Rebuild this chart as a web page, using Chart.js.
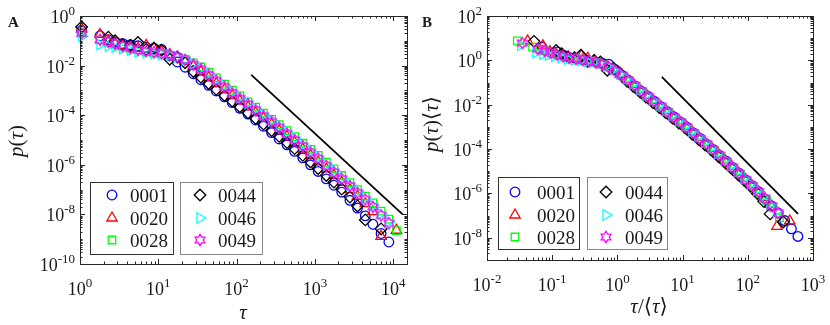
<!DOCTYPE html>
<html>
<head>
<meta charset="utf-8">
<title>Waiting time distributions</title>
<script src="https://cdn.jsdelivr.net/npm/chart.js"></script>
<style>
  body { margin: 0; background: #fff; }
  #wrap { position: relative; width: 830px; height: 325px; }
  canvas { position: absolute; top: 0; }
  #chartA { left: 0; }
  #chartB { left: 415px; }
</style>
</head>
<body>
<div id="wrap">
  <canvas id="chartA" width="415" height="325"></canvas>
  <canvas id="chartB" width="415" height="325"></canvas>
</div>
<script>
// ---- data ----
const seriesNames = ['0001', '0020', '0028', '0044', '0046', '0049'];

// log-binned waiting times (panel A, x)
const tauBins = [1.05, 1.8, 2.3, 2.8, 3.5, 4.4, 5.5, 7, 8.8, 11,
  14, 17.5, 22, 28, 35, 44, 55, 70, 88, 110,
  140, 175, 220, 280, 350, 440, 550, 700, 880, 1100,
  1400, 1750, 2200, 2800, 3500, 4400, 5500, 7000, 8800, 11000];

// p(tau) for each series, same order as tauBins (null = no point)
const p0001 = [0.26, 0.16, 0.11, 0.088, 0.078, 0.07, 0.063, 0.055, 0.05, 0.045,
  0.025, 0.014, 0.0086, 0.0047, 0.0027, 0.0016, 9.5e-4, 5.5e-4, 3.2e-4, 1.9e-4,
  1.1e-4, 6.4e-5, 3.6e-5, 2.0e-5, 1.1e-5, 6.4e-6, 3.5e-6, 1.9e-6, 1.0e-6, 5.4e-7,
  2.7e-7, 1.5e-7, 7.9e-8, 3.7e-8, 1.8e-8, 8.7e-9, 4.0e-9, 1.7e-9, 7.7e-10, null];
const p0020 = [0.3, 0.18, 0.1, 0.08, 0.065, 0.056, 0.05, 0.065, 0.05, 0.038,
  0.028, 0.0215, 0.015, 0.0094, 0.0057, 0.0033, 0.0019, 0.00106, 6.2e-4, 3.8e-4,
  2.15e-4, 1.26e-4, 7.5e-5, 4.3e-5, 2.4e-5, 1.38e-5, 7.9e-6, 4.3e-6, 2.4e-6, 1.3e-6,
  6.8e-7, 3.7e-7, 1.95e-7, 1.0e-7, 5.4e-8, 2.7e-8, 1.3e-8, 1.3e-9, null, 2.3e-9];
const p0028 = [0.21, 0.11, 0.088, 0.074, 0.06, 0.05, 0.043, 0.036, 0.032, 0.029,
  0.025, 0.022, 0.018, 0.013, 0.0088, 0.0054, 0.0032, 0.00178, 0.00102, 6.0e-4,
  3.45e-4, 2.1e-4, 1.2e-4, 6.8e-5, 4.2e-5, 2.4e-5, 1.36e-5, 7.4e-6, 4.2e-6, 2.4e-6,
  1.26e-6, 6.9e-7, 3.7e-7, 1.9e-7, 1.0e-7, 5.5e-8, 2.9e-8, 1.35e-8, 6.5e-9, 2.2e-9];
const p0044 = [0.36, null, 0.14, 0.1, 0.07, 0.065, 0.085, 0.045, 0.05, 0.042,
  0.018, 0.022, 0.013, 0.0058, 0.0034, 0.0019, 0.0011, 6.3e-4, 3.7e-4, 2.2e-4,
  1.25e-4, 7.5e-5, 4.4e-5, 2.4e-5, 1.4e-5, 7.9e-6, 4.5e-6, 2.4e-6, 1.3e-6, 7.1e-7,
  3.7e-7, 2.0e-7, 1.05e-7, 5.0e-8, 2.2e-8, 6.0e-9, null, 2.6e-9, null, null];
const p0046 = [0.15, 0.07, 0.06, 0.055, 0.048, 0.042, 0.036, 0.033, 0.031, 0.028,
  0.0267, 0.0226, 0.0172, 0.0119, 0.0077, 0.0046, 0.0027, 0.0015, 8.6e-4, 5.1e-4,
  3.0e-4, 1.78e-4, 1.03e-4, 5.9e-5, 3.5e-5, 2.0e-5, 1.14e-5, 6.2e-6, 3.5e-6, 2.0e-6,
  1.03e-6, 5.6e-7, 3.0e-7, 1.54e-7, 8.3e-8, 4.4e-8, 2.3e-8, 1.04e-8, 5.0e-9, null];
const p0049 = [0.20, 0.11, 0.090, 0.075, 0.061, 0.051, 0.044, 0.039, 0.035, 0.031,
  0.027, 0.022, 0.017, 0.011, 0.0071, 0.0043, 0.0025, 0.0014, 7.9e-4, 4.7e-4,
  2.8e-4, 1.6e-4, 9.3e-5, 5.5e-5, 3.2e-5, 1.8e-5, 1.0e-5, 5.7e-6, 3.2e-6, 1.8e-6,
  9.2e-7, 5.0e-7, 2.7e-7, 1.4e-7, 7.4e-8, 4.0e-8, 2.0e-8, 9.1e-9, 4.4e-9, null];

// mean waiting time <tau> of each series (panel B rescaling)
const meanTau = [15, 25, 36, 20, 32, 30];

// guide lines
const refTauA = [154, 13200];
const refPA = [4.2e-3, 1.0e-8];
const refXB = [4.8, 590];
const refYB = [0.18, 1.2e-7];

// tick label exponents
const aXTickExp = [0, 1, 2, 3, 4];
const aYTickExp = [0, -2, -4, -6, -8, -10];
const bXTickExp = [-2, -1, 0, 1, 2, 3];
const bYTickExp = [2, 0, -2, -4, -6, -8];

// ---- styling ----
const FONT = '"Liberation Serif", "DejaVu Serif", serif';
const INK = '#1a1a1a';
const colors = ['#0000ff', '#ff0000', '#00ff00', '#000000', '#00ffff', '#ff00ff'];
const LW = 1.3;

function hexagram(color, R, lw) {
  const s = Math.ceil(2 * R + 2 * lw + 2);
  const c = document.createElement('canvas');
  c.width = c.height = s;
  const g = c.getContext('2d');
  g.strokeStyle = color;
  g.lineWidth = lw;
  g.beginPath();
  for (let i = 0; i < 12; i++) {
    const r = i % 2 ? R / Math.sqrt(3) : R;
    const ang = Math.PI / 6 * i - Math.PI / 2;
    const px = s / 2 + r * Math.cos(ang), py = s / 2 + r * Math.sin(ang);
    if (i) g.lineTo(px, py); else g.moveTo(px, py);
  }
  g.closePath();
  g.stroke();
  return c;
}

const markers = [
  { style: 'circle', r: 4.8, rot: 0 },
  { style: 'triangle', r: 6, rot: 0 },
  { style: 'rect', r: 5.3, rot: 0 },
  { style: 'rectRot', r: 5.8, rot: 0 },
  { style: 'triangle', r: 6, rot: 90 },
  { style: hexagram(colors[5], 5.6, LW), r: 5.6, rot: 0 }
];

const pSeries = [p0001, p0020, p0028, p0044, p0046, p0049];

function pointsA(s) {
  return tauBins.map((t, i) => ({ x: t, y: pSeries[s][i] })).filter(d => d.y !== null);
}
function pointsB(s) {
  const m = meanTau[s];
  return tauBins.map((t, i) => ({ x: t / m, y: pSeries[s][i] === null ? null : pSeries[s][i] * m }))
    .filter(d => d.y !== null);
}

function buildDatasets(getPts, lineX, lineY) {
  const ds = seriesNames.map((name, s) => ({
    label: name,
    data: getPts(s),
    showLine: false,
    pointStyle: markers[s].style,
    pointRadius: markers[s].r,
    pointRotation: markers[s].rot,
    pointBorderColor: colors[s],
    pointBackgroundColor: 'rgba(0,0,0,0)',
    pointBorderWidth: LW,
    clip: false,
    order: seriesNames.length - s
  }));
  ds.push({
    label: 'guide',
    data: lineX.map((x, i) => ({ x: x, y: lineY[i] })),
    showLine: true,
    borderColor: '#000',
    borderWidth: 1.8,
    pointRadius: 0,
    clip: false,
    order: 20
  });
  return ds;
}

function drawPow(ctx, e, x, y, align) {
  const base = '10', ex = String(e);
  ctx.font = '18px ' + FONT;
  const wb = ctx.measureText(base).width;
  ctx.font = '13px ' + FONT;
  const we = ctx.measureText(ex).width;
  const x0 = align === 'center' ? x - (wb + we) / 2 : x - wb - we;
  ctx.textAlign = 'left';
  ctx.textBaseline = 'alphabetic';
  ctx.font = '18px ' + FONT;
  ctx.fillText(base, x0, y);
  ctx.font = '13px ' + FONT;
  ctx.fillText(ex, x0 + wb, y - 8);
}

function drawMixed(ctx, parts, cx, cy, rotate) {
  ctx.save();
  ctx.translate(cx, cy);
  if (rotate) ctx.rotate(-Math.PI / 2);
  const fontOf = it => (it ? 'italic ' : '') + '21px ' + FONT;
  let total = 0;
  const ws = parts.map(([t, it]) => { ctx.font = fontOf(it); const w = ctx.measureText(t).width; total += w; return w; });
  let x = -total / 2;
  ctx.textAlign = 'left';
  ctx.textBaseline = 'alphabetic';
  parts.forEach(([t, it], i) => { ctx.font = fontOf(it); ctx.fillText(t, x, 0); x += ws[i]; });
  ctx.restore();
}

function panelPlugin(cfg) {
  return {
    id: 'panel' + cfg.letter,
    afterDatasetsDraw(chart) {
      const ctx = chart.ctx, a = chart.chartArea;
      const xs = chart.scales.x, ys = chart.scales.y;
      ctx.save();
      ctx.strokeStyle = '#262626';
      ctx.lineWidth = 1;
      ctx.beginPath();
      for (let e = cfg.xDec[0]; e <= cfg.xDec[1]; e++) {
        for (let k = 1; k < 10; k++) {
          const v = k * Math.pow(10, e);
          if (v < xs.min * 0.999 || v > xs.max * 1.001) continue;
          const px = Math.round(xs.getPixelForValue(v)) + 0.5;
          const len = (k === 1 && cfg.xExp.includes(e)) ? 5 : 2.5;
          ctx.moveTo(px, a.bottom); ctx.lineTo(px, a.bottom - len);
          ctx.moveTo(px, a.top); ctx.lineTo(px, a.top + len);
        }
      }
      for (let e = cfg.yDec[0]; e <= cfg.yDec[1]; e++) {
        for (let k = 1; k < 10; k++) {
          const v = k * Math.pow(10, e);
          if (v < ys.min * 0.999 || v > ys.max * 1.001) continue;
          const py = Math.round(ys.getPixelForValue(v)) + 0.5;
          const len = (k === 1 && cfg.yExp.includes(e)) ? 5 : 2.5;
          ctx.moveTo(a.left, py); ctx.lineTo(a.left + len, py);
          ctx.moveTo(a.right, py); ctx.lineTo(a.right - len, py);
        }
      }
      ctx.stroke();
      ctx.strokeRect(Math.round(a.left) + 0.5, Math.round(a.top) + 0.5,
        Math.round(a.right - a.left), Math.round(a.bottom - a.top));

      ctx.fillStyle = INK;
      cfg.xExp.forEach(e => drawPow(ctx, e, xs.getPixelForValue(Math.pow(10, e)), a.bottom + 31, 'center'));
      cfg.yExp.forEach(e => drawPow(ctx, e, a.left - 5, ys.getPixelForValue(Math.pow(10, e)) + 7, 'right'));

      // axis titles
      drawMixed(ctx, cfg.xTitle, cfg.xTitlePos[0], cfg.xTitlePos[1], false);
      drawMixed(ctx, cfg.yTitle, cfg.yTitlePos[0], cfg.yTitlePos[1], true);

      // panel letter
      ctx.font = 'bold 15px ' + FONT;
      ctx.textAlign = 'left';
      ctx.fillText(cfg.letter, cfg.letterPos[0], cfg.letterPos[1]);

      // legend: two boxes of three entries
      cfg.legend.forEach((box, b) => {
        ctx.fillStyle = '#fff';
        ctx.fillRect(box.x, box.y, box.w, box.h);
        ctx.strokeStyle = box.edge;
        ctx.lineWidth = 1;
        ctx.strokeRect(box.x + 0.5, box.y + 0.5, box.w, box.h);
        for (let r = 0; r < 3; r++) {
          const s = b * 3 + r;
          const cy = cfg.legendRows[r];
          ctx.save();
          ctx.strokeStyle = colors[s];
          ctx.fillStyle = 'rgba(0,0,0,0)';
          ctx.lineWidth = LW;
          Chart.helpers.drawPoint(ctx, {
            pointStyle: markers[s].style, radius: markers[s].r,
            rotation: markers[s].rot, borderWidth: LW
          }, box.mx, cy);
          ctx.restore();
          ctx.fillStyle = INK;
          ctx.font = '19px ' + FONT;
          ctx.textAlign = 'left';
          ctx.textBaseline = 'alphabetic';
          ctx.fillText(seriesNames[s], box.tx, cy + 7);
        }
      });
      ctx.restore();
    }
  };
}

function makeChart(id, datasets, cfg) {
  return new Chart(document.getElementById(id), {
    type: 'scatter',
    data: { datasets: datasets },
    options: {
      responsive: false,
      animation: false,
      events: [],
      layout: { padding: { left: 0, top: 16, right: cfg.padRight, bottom: 0 } },
      plugins: { legend: { display: false }, tooltip: { enabled: false } },
      scales: {
        x: {
          type: 'logarithmic', min: cfg.xMin, max: cfg.xMax,
          grid: { display: false }, border: { display: false }, ticks: { display: false },
          afterFit: s => { s.height = cfg.xAxisH; }
        },
        y: {
          type: 'logarithmic', min: cfg.yMin, max: cfg.yMax,
          grid: { display: false }, border: { display: false }, ticks: { display: false },
          afterFit: s => { s.width = cfg.yAxisW; }
        }
      }
    },
    plugins: [panelPlugin(cfg)]
  });
}

makeChart('chartA', buildDatasets(pointsA, refTauA, refPA), {
  letter: 'A', letterPos: [8, 27],
  xMin: 1, xMax: 1.5e4, yMin: 1e-10, yMax: 1,
  yAxisW: 80, xAxisH: 61, padRight: 8,
  xDec: [0, 4], yDec: [-10, 0], xExp: aXTickExp, yExp: aYTickExp,
  xTitle: [['τ', true]], xTitlePos: [243, 319],
  yTitle: [['p', true], ['(', false], ['τ', true], [')', false]], yTitlePos: [23, 141],
  legendRows: [195, 218, 240],
  legend: [
    { x: 90, y: 182, w: 83, h: 72, mx: 112, tx: 130, edge: '#333' },
    { x: 180, y: 182, w: 82, h: 72, mx: 200, tx: 218, edge: '#888' }
  ]
});

makeChart('chartB', buildDatasets(pointsB, refXB, refYB), {
  letter: 'B', letterPos: [7, 27],
  xMin: 1e-2, xMax: 1e3, yMin: 1e-9, yMax: 1e2,
  yAxisW: 72, xAxisH: 65, padRight: 17,
  xDec: [-2, 3], yDec: [-9, 2], xExp: bXTickExp, yExp: bYTickExp,
  xTitle: [['τ', true], ['/⟨', false], ['τ', true], ['⟩', false]], xTitlePos: [234, 313],
  yTitle: [['p', true], ['(', false], ['τ', true], [')⟨', false], ['τ', true], ['⟩', false]], yTitlePos: [23, 124],
  legendRows: [192, 215, 237],
  legend: [
    { x: 83, y: 177, w: 81, h: 72, mx: 100, tx: 122, edge: '#333' },
    { x: 172, y: 177, w: 80, h: 72, mx: 191, tx: 210, edge: '#888' }
  ]
});
</script>
</body>
</html>
